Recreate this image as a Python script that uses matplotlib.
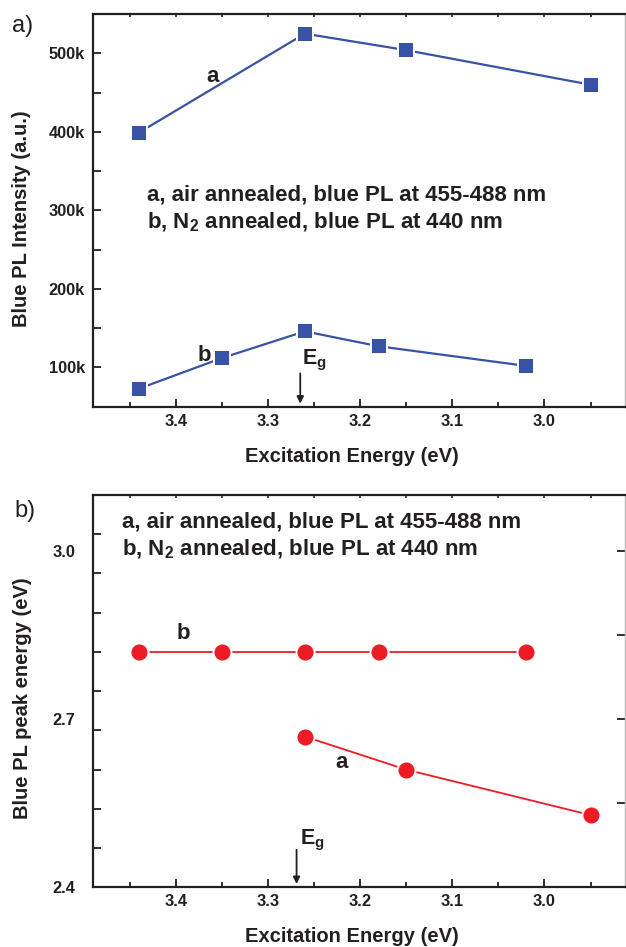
import matplotlib
matplotlib.use("Agg")
import matplotlib.pyplot as plt
from matplotlib.ticker import FixedLocator, NullFormatter
import numpy as np

# ---------------- data ----------------
# panel a) Blue PL intensity
a_x = [3.44, 3.26, 3.15, 2.95]
a_int = [399000, 525000, 504000, 460000]
b_x = [3.44, 3.35, 3.26, 3.18, 3.02]
b_int = [73000, 112000, 146000, 127000, 102000]
# panel b) Blue PL peak energy
pa_x = [3.26, 3.15, 2.95]
pa_E = [2.669, 2.61, 2.529]
pb_x = [3.44, 3.35, 3.26, 3.18, 3.02]
pb_E = [2.82, 2.82, 2.82, 2.82, 2.82]

x_major = [3.4, 3.3, 3.2, 3.1, 3.0]
x_minor = [3.45, 3.35, 3.25, 3.15, 3.05, 2.95]
x_labels = ["3.4", "3.3", "3.2", "3.1", "3.0"]
a_yticks = [100000, 200000, 300000, 400000, 500000]
a_ylabels = ["100k", "200k", "300k", "400k", "500k"]
a_yminor = [150000, 250000, 350000, 450000]
b_ytick_vals = [2.4, 2.7, 3.0]
b_ylabels = ["2.4", "2.7", "3.0"]
b_right_ticks = [2.55, 2.7, 2.85, 3.0]
Eg_a = 3.265
Eg_b = 3.269

line1 = "a, air annealed, blue PL at 455-488 nm"
line2 = r"b, N$_\mathbf{2}$ annealed, blue PL at 440 nm"

# ---------------- style ----------------
plt.rcParams["font.family"] = ["Liberation Sans", "DejaVu Sans"]
plt.rcParams["font.weight"] = "bold"
plt.rcParams["mathtext.fontset"] = "custom"
plt.rcParams["mathtext.bf"] = "Liberation Sans:bold"
plt.rcParams["mathtext.rm"] = "Liberation Sans:bold"
plt.rcParams["mathtext.default"] = "bf"

TXT = "#231F20"
BLUE = "#3953A4"
RED = "#ED1C24"
TICKFS = 11.8

fig = plt.figure(figsize=(6.26, 9.47), dpi=100)
L, W = 0.1490, 0.8494
axA = fig.add_axes([L, 0.5705, W, 0.4147])
axB = fig.add_axes([L, 0.0630, W, 0.4143])

def style(ax):
    for s in ["left", "bottom", "top"]:
        ax.spines[s].set_linewidth(1.6)
        ax.spines[s].set_color(TXT)
    ax.spines["right"].set_color("#BBBBBB")
    ax.spines["right"].set_linewidth(1.0)
    ax.set_xlim(3.4896, 2.9126)
    ax.xaxis.set_major_locator(FixedLocator(x_major))
    ax.set_xticklabels(x_labels)
    ax.xaxis.set_minor_locator(FixedLocator(x_minor))
    ax.tick_params(axis="x", which="major", direction="in", length=6, width=1.3,
                   color=TXT, labelsize=TICKFS, pad=5, labelcolor=TXT)
    ax.tick_params(axis="x", which="minor", direction="in", length=3.8, width=1.3, color=TXT)
    ax.tick_params(axis="y", which="both", direction="in", length=6, width=1.3,
                   color=TXT, labelsize=TICKFS, pad=6, labelcolor=TXT, right=False)
    top = ax.secondary_xaxis("top")
    top.xaxis.set_major_locator(FixedLocator(x_major + x_minor))
    top.tick_params(direction="in", length=2, width=1.2, color=TXT, labeltop=False)
    top.spines["top"].set_visible(False)
    ax.set_xlabel("Excitation Energy (eV)", fontsize=14.5, fontweight="bold", color=TXT)

# ---------- panel a ----------
style(axA)
axA.set_ylim(50000, 550000)
axA.set_yticks(a_yticks)
axA.set_yticklabels(a_ylabels)
axA.yaxis.set_minor_locator(FixedLocator(a_yminor))
axA.plot(a_x, a_int, "-s", color=BLUE, lw=1.6, ms=12, mfc=BLUE, mec="white", mew=1.4, zorder=3)
axA.plot(b_x, b_int, "-s", color=BLUE, lw=1.6, ms=12, mfc=BLUE, mec="white", mew=1.4, zorder=3)
axA.set_ylabel("Blue PL Intensity (a.u.)", fontsize=14.5, fontweight="bold", color=TXT)
axA.yaxis.set_label_coords(-0.117, 0.48)
axA.xaxis.set_label_coords(0.4866, -0.1026)
axA.text(3.36, 470000, "a", fontsize=16, ha="center", va="center", color=TXT)
axA.text(3.369, 115000, "b", fontsize=16, ha="center", va="center", color=TXT)
axA.text(3.431, 320000, line1, fontsize=16, ha="left", va="center", color=TXT)
axA.text(3.431, 285000, line2, fontsize=16, ha="left", va="center", color=TXT)
axA.text(3.2635, 108500, r"E$_\mathbf{g}$", fontsize=15.5, ha="left", va="center", color=TXT)
axA.annotate("", xy=(Eg_a, 50500), xytext=(Eg_a, 96000),
             arrowprops=dict(arrowstyle="-|>", color=TXT, lw=1.3, mutation_scale=10))

# ---------- panel b ----------
style(axB)
axB.set_ylim(2.4, 3.1)
axB.set_yticks(np.linspace(2.4, 3.1, 11)[1:-1])
axB.yaxis.set_major_formatter(NullFormatter())
lab = axB.secondary_yaxis("left")
lab.set_yticks(b_ytick_vals)
lab.set_yticklabels(b_ylabels)
lab.tick_params(length=0, pad=13, labelsize=TICKFS, labelcolor=TXT)
lab.spines["left"].set_visible(False)
rt = axB.secondary_yaxis("right")
rt.set_yticks(b_right_ticks)
rt.tick_params(direction="in", length=5.5, width=1.3, color=TXT, labelright=False)
rt.spines["right"].set_visible(False)
axB.plot(pb_x, pb_E, "-o", color=RED, lw=1.3, ms=13, mfc=RED, mec="white", mew=1.4, zorder=3)
axB.plot(pa_x, pa_E, "-o", color=RED, lw=1.3, ms=13, mfc=RED, mec="white", mew=1.4, zorder=3)
axB.set_ylabel("Blue PL peak energy (eV)", fontsize=14.5, fontweight="bold", color=TXT)
axB.yaxis.set_label_coords(-0.115, 0.482)
axB.xaxis.set_label_coords(0.4866, -0.101)
axB.text(3.392, 2.853, "b", fontsize=16, ha="center", va="center", color=TXT)
axB.text(3.22, 2.622, "a", fontsize=16, ha="center", va="center", color=TXT)
axB.text(3.4585, 3.052, line1, fontsize=16, ha="left", va="center", color=TXT)
axB.text(3.4585, 3.003, line2, fontsize=16, ha="left", va="center", color=TXT)
axB.text(3.265, 2.484, r"E$_\mathbf{g}$", fontsize=15.5, ha="left", va="center", color=TXT)
axB.annotate("", xy=(Eg_b, 2.401), xytext=(Eg_b, 2.472),
             arrowprops=dict(arrowstyle="-|>", color=TXT, lw=1.3, mutation_scale=10))

fig.text(12 / 626, 0.9665, "a)", fontsize=17, fontweight="normal", color=TXT, va="baseline")
fig.text(14 / 626, 0.4544, "b)", fontsize=17, fontweight="normal", color=TXT, va="baseline")

fig.savefig("out.png", dpi=100)
